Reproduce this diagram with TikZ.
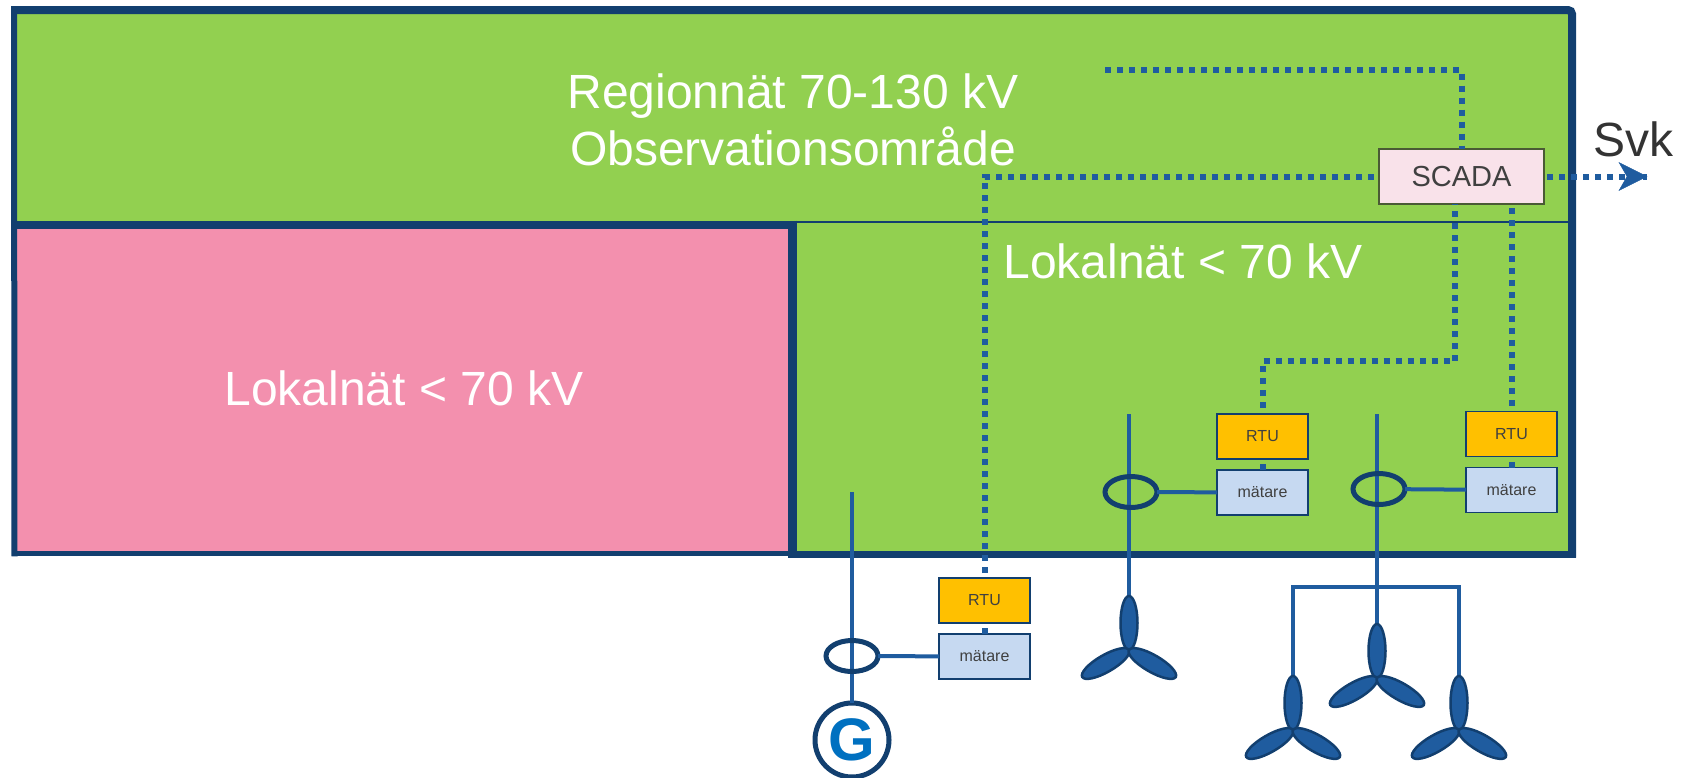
\documentclass[tikz,border=0pt]{standalone}
\usepackage{fontspec}
\usepackage{xcolor}
\setmainfont{Liberation Sans}
\usepackage{tikz}
\usetikzlibrary{arrows.meta,positioning,shapes.geometric}
\definecolor{navy}{HTML}{123F6F}
\definecolor{wire}{HTML}{1F5C9F}
\definecolor{grass}{HTML}{92D050}
\definecolor{rose}{HTML}{F390AE}
\definecolor{blush}{HTML}{F9E2EA}
\definecolor{moss}{HTML}{4A5A35}
\definecolor{amber}{HTML}{FFC000}
\definecolor{sky}{HTML}{C6D9F1}
\definecolor{gblue}{HTML}{0070C0}

\tikzset{
  area/.style={rectangle,inner sep=0pt,outer sep=0pt},
  rim/.style={draw=navy},
  areatext/.style={text=white,font=\fontsize{48}{57}\selectfont,align=center},
  scada/.style={rectangle,draw=moss,line width=1.5pt,fill=blush,text=black!75,minimum width=165pt,minimum height=55pt,inner sep=0pt,outer sep=0pt,font=\fontsize{29}{32}\selectfont},
  rtu/.style={rectangle,draw=navy,line width=1.5pt,fill=amber,text=black!75,minimum width=91pt,minimum height=45pt,inner sep=0pt,outer sep=0pt,font=\fontsize{16}{19}\selectfont},
  meter/.style={rtu,fill=sky},
  ring/.style={ellipse,draw=navy,line width=5pt,minimum width=52pt,minimum height=31pt,inner sep=0pt,outer sep=0pt},
  gen/.style={circle,draw=navy,line width=5pt,fill=white,minimum size=74pt,inner sep=0pt,outer sep=0pt,text=gblue,font=\fontsize{60}{62}\selectfont\bfseries},
  cable/.style={draw=wire,line width=4pt},
  signal/.style={draw=wire,line width=6pt,dash pattern=on 6pt off 6pt},
  blade/.style={draw=navy,line width=2.5pt,fill=wire},
  turbine/.pic={
    \foreach \a in {0,120,240}
      \draw[blade,rotate=\a] (0,-27) ellipse (8.5 and 27);
  }
}

\begin{document}
\begin{tikzpicture}[x=1pt,y=-1pt]
  \useasboundingbox (0,0) rectangle (1689,777);

  % areas
  \node[area,fill=grass,minimum width=1558pt,minimum height=212pt](north) at (793,116){};
  \node[area,fill=grass,minimum width=780pt,minimum height=332pt](east) at (1182,388){};
  \node[area,fill=rose,minimum width=778pt,minimum height=329pt](west) at (403.5,389){};
  \draw[rim,line width=6pt]([yshift=4pt]north.north west)--([yshift=-2.75pt]west.south west);
  \draw[rim,line width=8pt,rounded corners=4pt]([xshift=-3pt]north.north west)--(north.north east)--([yshift=-3.5pt]east.south east);
  \draw[rim,line width=5.5pt](west.south west)--(west.south east);
  \draw[rim,line width=7pt](east.south west)--([xshift=4pt]east.south east);
  \draw[draw=navy,line width=2.5pt](east.north west)--(east.north east);
  \draw[rim,line width=8pt](west.north west)--(west.north east);
  \draw[rim,line width=9pt]([yshift=4pt]west.north east)--([yshift=-4pt]west.south east);
  \node[areatext](titlea) at (793,120){Regionnät 70-130 kV\\Observationsområde};
  \node[areatext](titleb) at (1183,261){Lokalnät < 70 kV};
  \node[areatext](titlec) at (404,388){Lokalnät < 70 kV};

  % boxes
  \node[scada](scada) at (1461.5,176.5){SCADA};
  \node[rtu](rtua) at (1262.5,436.5){RTU};
  \node[meter,below=11pt of rtua](meta){mätare};
  \node[rtu](rtub) at (1511.5,434){RTU};
  \node[meter,below=11pt of rtub](metb){mätare};
  \node[rtu](rtuc) at (984.5,600.5){RTU};
  \node[meter,below=11pt of rtuc](metc){mätare};

  % end points
  \coordinate(topa) at (1129,414);
  \coordinate(topb) at (1377,414);
  \coordinate(topc) at (852,492);
  \coordinate(huba) at (1129,650);
  \coordinate(hubb) at (1377,678);
  \coordinate(hubc) at (1293,730);
  \coordinate(hubd) at (1459,730);
  \coordinate(busa) at (1377,587);
  \coordinate(nib) at (1105,70);
  \coordinate(svk) at (1647,176.5);

  % cables
  \draw[cable](topa)--(huba);
  \draw[cable](topb)--(hubb);
  \draw[cable,line join=miter](hubc)|-(busa)-|(hubd);
  \node[gen](gen) at (852,740){G};
  \draw[cable](topc)--(gen);
  \node[ring](ringa) at (1131,492){};
  \node[ring](ringb) at (1379,489){};
  \node[ring](ringc) at (852,656){};
  \draw[cable](ringa)--(meta);
  \draw[cable](ringb)--(metb);
  \draw[cable](ringc)--(metc);

  % turbines
  \pic at (huba) {turbine};
  \pic at (hubb) {turbine};
  \pic at (hubc) {turbine};
  \pic at (hubd) {turbine};

  % signals
  \draw[signal](nib)-|(scada.north);
  \draw[signal,dash phase=7pt](rtuc.north)|-(scada.west);
  \draw[signal,dash phase=6pt](rtua.north)--(1262.5,361)-|([xshift=-6.5pt]scada.south);
  \draw[signal,dash phase=6pt](rtub.north)--(scada.south -| rtub.north);
  \draw[signal](meta)--(rtua);
  \draw[signal](metb)--(rtub);
  \draw[signal](metc)--(rtuc);
  \draw[signal,dash phase=9pt](scada.east)--(svk);
  \draw[draw=wire,fill=wire](svk)--++(-28,-14)--++(8,14)--++(-8,14)--cycle;
  \node[text=black!80,font=\fontsize{48}{57}\selectfont](svklabel) at (1633,139){Svk};
\end{tikzpicture}
\end{document}
